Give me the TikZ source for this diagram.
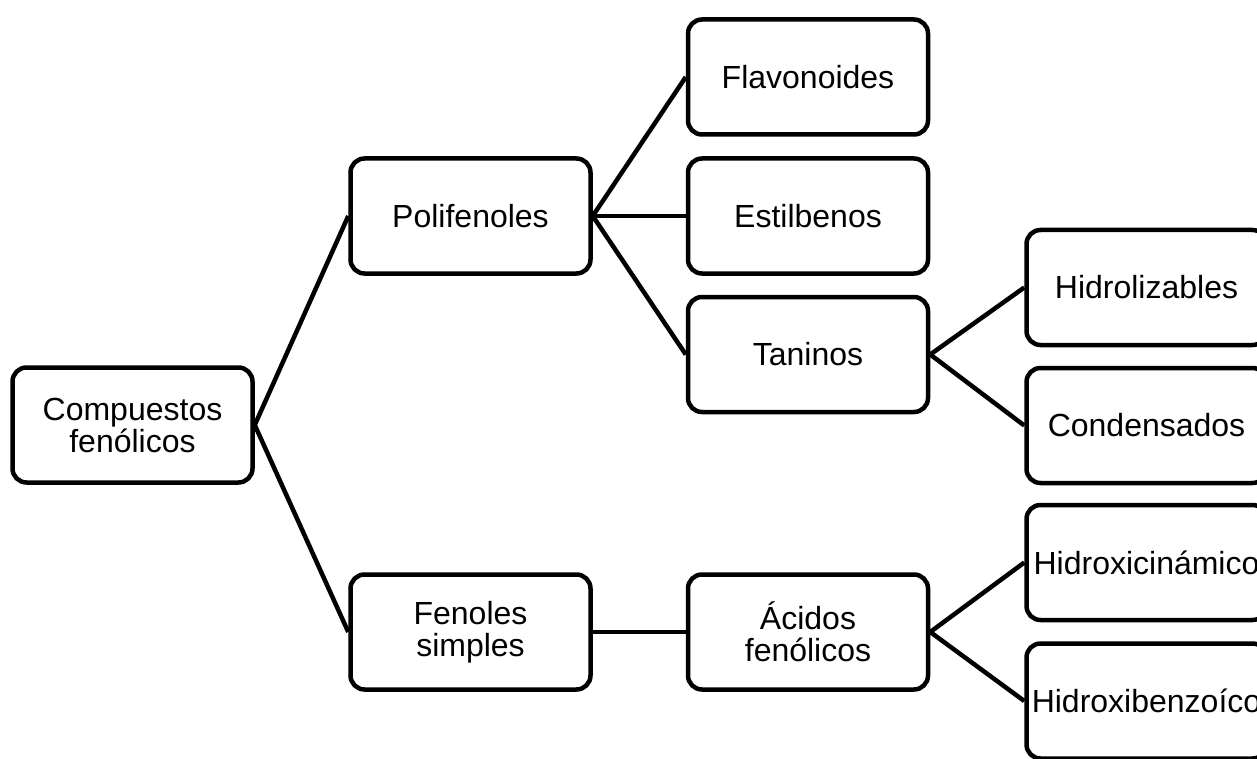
\documentclass[tikz,border=0pt]{standalone}
\usepackage{fontspec}
\setmainfont{Liberation Sans}
\usetikzlibrary{positioning}

\begin{document}
\begin{tikzpicture}[
  x=1pt, y=-1pt,
  box/.style={draw, line width=4.5pt, rounded corners=14pt, minimum width=240pt, minimum height=115pt, align=center, inner sep=0pt, font=\fontsize{32}{32}\selectfont},
  link/.style={line width=4.5pt},
]
  \clip (0,0) rectangle (1257,759);

  % Root
  \node[box] (comp) at (132.5,425) {Compuestos\\fenólicos};

  % Level 1
  \node[box] (poli) at (470.5,216) {Polifenoles};
  \node[box] (feno) at (470.5,632) {Fenoles\\simples};

  % Level 2
  \node[box] (flav) at (808,77) {Flavonoides};
  \node[box] (esti) at (808,216) {Estilbenos};
  \node[box] (tani) at (808,354.5) {Taninos};
  \node[box] (acid) at (808,632) {Ácidos\\fenólicos};

  % Level 3 (cut at the right edge)
  \node[box] (hidr) at (1146.5,287.5) {Hidrolizables};
  \node[box] (cond) at (1146.5,425.5) {Condensados};
  \node[box] (hcin) at (1146.5,562.5) {Hidroxicinámico};
  \node[box] (hben) at (1146.5,701) {Hidroxibenzoíco};

  % Links
  \draw[link] (comp.east) -- (poli.west);
  \draw[link] (comp.east) -- (feno.west);
  \draw[link] (poli.east) -- (flav.west);
  \draw[link] (poli.east) -- (esti.west);
  \draw[link] (poli.east) -- (tani.west);
  \draw[link] (feno.east) -- (acid.west);
  \draw[link] (tani.east) -- (hidr.west);
  \draw[link] (tani.east) -- (cond.west);
  \draw[link] (acid.east) -- (hcin.west);
  \draw[link] (acid.east) -- (hben.west);
\end{tikzpicture}
\end{document}
